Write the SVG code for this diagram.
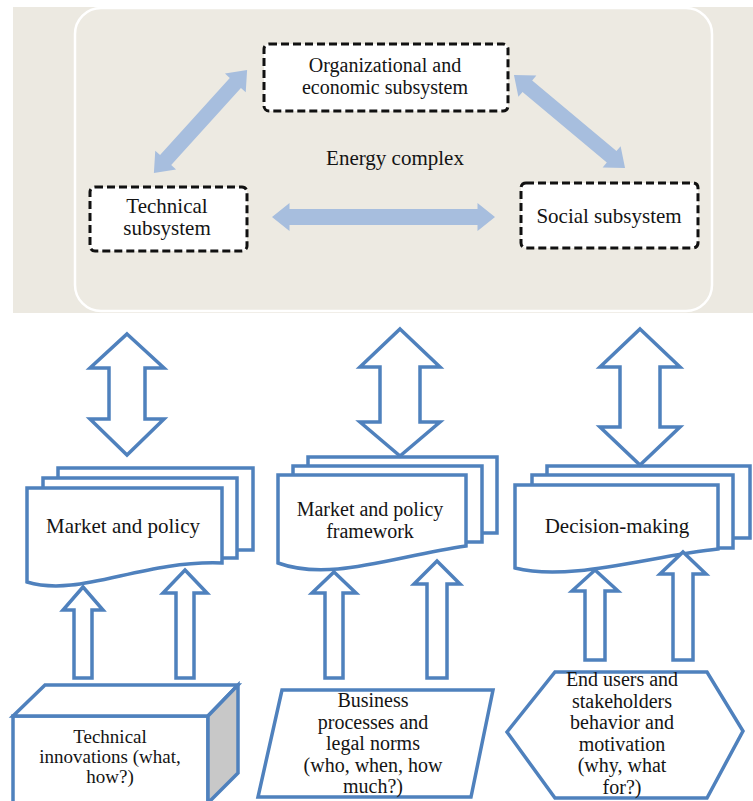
<svg xmlns="http://www.w3.org/2000/svg" width="753" height="801" viewBox="0 0 753 801">
<defs>
<style>
.t{font-family:'Liberation Serif','Tinos','DejaVu Serif',serif;font-size:21px;fill:#141414;text-anchor:middle}
.s19{font-size:19px}
.s20{font-size:20px}
.dash{fill:#fff;stroke:#111;stroke-width:3;stroke-dasharray:8 4}
.blue{fill:#fff;stroke:#4F81BD;stroke-width:3.5;stroke-linejoin:miter}
.light{fill:#A7BEDE;stroke:none}
</style>
</defs>
<rect width="753" height="801" fill="#fff"/>
<g id="energy-complex">
<rect x="13" y="7" width="740" height="306" fill="#ECE9E1"/>
<rect x="75" y="8" width="637" height="303" rx="26" fill="#EDEAE2" stroke="#fff" stroke-width="2.5"/>
<text class="t" x="395" y="165" font-family="Liberation Serif, serif">Energy complex</text>
</g>
<g id="org-subsystem">
<rect class="dash" x="264" y="44" width="244" height="67" rx="5"/>
<text class="t s20" x="385" y="72" font-family="Liberation Serif, serif">Organizational and</text>
<text class="t s20" x="385" y="94" font-family="Liberation Serif, serif">economic subsystem</text>
</g>
<g id="tech-subsystem">
<rect class="dash" x="90" y="187" width="157" height="64" rx="5"/>
<text class="t" x="167" y="213" font-family="Liberation Serif, serif">Technical</text>
<text class="t" x="167" y="235" font-family="Liberation Serif, serif">subsystem</text>
</g>
<g id="social-subsystem">
<rect class="dash" x="521" y="183" width="177" height="65" rx="5"/>
<text class="t" x="609" y="223" font-family="Liberation Serif, serif">Social subsystem</text>
</g>

<g id="doc-market-policy">
<rect class="blue" x="58" y="468" width="195" height="82"/>
<rect class="blue" x="43" y="478" width="194" height="80"/>
<path class="blue" d="M27,488 H222 V563 C140,560 80,598 27,582 Z"/>
<text class="t" x="123" y="533" font-family="Liberation Serif, serif">Market and policy</text>
</g>
<g id="doc-framework">
<rect class="blue" x="308" y="457" width="189" height="76"/>
<rect class="blue" x="293" y="466" width="189" height="76"/>
<path class="blue" d="M278,475 H466 V546 C395,556 330,582 278,563 Z"/>
<text class="t s20" x="370" y="516" font-family="Liberation Serif, serif">Market and policy</text>
<text class="t s20" x="370" y="538" font-family="Liberation Serif, serif">framework</text>
</g>
<g id="doc-decision">
<rect class="blue" x="547" y="466" width="203" height="72"/>
<rect class="blue" x="532" y="475" width="201" height="73"/>
<path class="blue" d="M515,485 H718 V549 C650,556 570,582 515,568 Z"/>
<text class="t" x="617" y="533" font-family="Liberation Serif, serif">Decision-making</text>
</g>

<g id="technical-innovations">
<rect class="blue" x="13" y="716" width="195" height="92"/>
<polygon class="blue" points="13,716 45,685 238,685 208,716"/>
<polygon points="208,716 238,685 238,773 208,803" fill="#C8C8C8" stroke="#4F81BD" stroke-width="3.5"/>
<text class="t s19" x="110" y="743" font-family="Liberation Serif, serif">Technical</text>
<text class="t s19" x="110" y="763" font-family="Liberation Serif, serif">innovations (what,</text>
<text class="t s19" x="110" y="783" font-family="Liberation Serif, serif">how?)</text>
</g>
<g id="business-processes">
<polygon class="blue" points="282,690 493,690 471,797 258,797"/>
<text class="t s20" x="373" y="707" font-family="Liberation Serif, serif">Business</text>
<text class="t s20" x="373" y="728.5" font-family="Liberation Serif, serif">processes and</text>
<text class="t s20" x="373" y="750" font-family="Liberation Serif, serif">legal norms</text>
<text class="t s20" x="373" y="771.5" font-family="Liberation Serif, serif">(who, when, how</text>
<text class="t s20" x="373" y="793" font-family="Liberation Serif, serif">much?)</text>
</g>
<g id="end-users">
<polygon class="blue" points="555,672 707,672 743,731 707,798 555,798 507,732"/>
<text class="t s20" x="622" y="686" font-family="Liberation Serif, serif">End users and</text>
<text class="t s20" x="622" y="707.5" font-family="Liberation Serif, serif">stakeholders</text>
<text class="t s20" x="622" y="729" font-family="Liberation Serif, serif">behavior and</text>
<text class="t s20" x="622" y="750.5" font-family="Liberation Serif, serif">motivation</text>
<text class="t s20" x="622" y="772" font-family="Liberation Serif, serif">(why, what</text>
<text class="t s20" x="622" y="793.5" font-family="Liberation Serif, serif">for?)</text>
</g>

<g id="connectors">
<path class="light" transform="translate(200.5,121.5) rotate(-47.9)" d="M-69.5,0 L-52,-14 L-52,-7.5 L52,-7.5 L52,-14 L69.5,0 L52,14 L52,7.5 L-52,7.5 L-52,14 Z"/>
<path class="light" transform="translate(569.5,121.5) rotate(40)" d="M-72.5,0 L-55,-14 L-55,-7.5 L55,-7.5 L55,-14 L72.5,0 L55,14 L55,7.5 L-55,7.5 L-55,14 Z"/>
<path class="light" transform="translate(383.5,217)" d="M-111.5,0 L-94,-14 L-94,-8 L94,-8 L94,-14 L111.5,0 L94,14 L94,8 L-94,8 L-94,14 Z"/>

<path class="blue" d="M127,334 L164,368 L145,368 L145,419 L164,419 L127,455 L90,419 L109,419 L109,368 L90,368 Z"/>
<path class="blue" d="M400,329 L440,367 L420,367 L420,422 L440,422 L400,456 L360,422 L380,422 L380,367 L360,367 Z"/>
<path class="blue" d="M640,329 L680,367 L660,367 L660,427 L680,427 L640,465 L600,427 L620,427 L620,367 L600,367 Z"/>

<path class="blue" d="M83,587 L103,610 L92,610 L92,678 L74,678 L74,610 L63,610 Z"/>
<path class="blue" d="M185,570 L207,593 L194,593 L194,678 L176,678 L176,593 L163,593 Z"/>
<path class="blue" d="M334,572 L356,593 L343,593 L343,678 L325,678 L325,593 L312,593 Z"/>
<path class="blue" d="M437,561 L460,584 L447,584 L447,678 L427,678 L427,584 L414,584 Z"/>
<path class="blue" d="M595,570 L618,591 L605,591 L605,660 L585,660 L585,591 L572,591 Z"/>
<path class="blue" d="M683,552 L706,574 L693,574 L693,660 L673,660 L673,574 L660,574 Z"/>
</g>
</svg>
